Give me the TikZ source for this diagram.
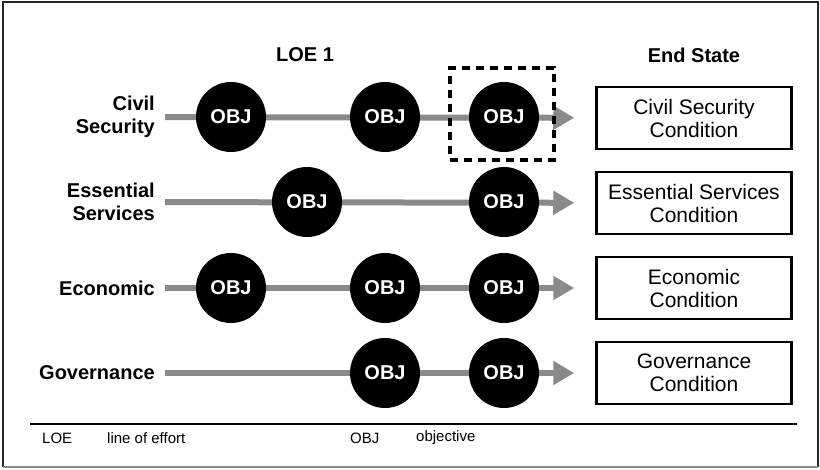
\documentclass[tikz,border=0pt]{standalone}
\usepackage{fontspec}
\setmainfont{Liberation Sans}
\usetikzlibrary{arrows.meta,positioning}
\definecolor{loegray}{RGB}{138,138,138}
\tikzset{%
  >={Triangle[width=23pt,length=21pt]},
  % Specifications for style of nodes:
       objective/.style = {circle, fill=black, minimum size=70pt, inner sep=0pt,
                           text=white, font=\fontsize{20}{20}\selectfont\bfseries},
        endstate/.style = {rectangle, draw=black, line width=2.5pt,
                           minimum width=195pt, minimum height=62pt,
                           align=center, font=\fontsize{21}{23}\selectfont},
        loelabel/.style = {anchor=east, align=right, inner sep=0pt,
                           font=\fontsize{20}{23}\selectfont\bfseries},
         heading/.style = {font=\fontsize{20}{22}\selectfont\bfseries},
          legend/.style = {anchor=west, inner sep=0pt, font=\fontsize{15}{17}\selectfont},
         loeline/.style = {draw=loegray, line width=6pt, ->,
                           shorten <=10pt, shorten >=21pt},
        focusbox/.style = {draw=black, line width=4pt, dash pattern=on 8pt off 6pt,
                           minimum width=104pt, minimum height=92pt},
}

\begin{document}
\begin{tikzpicture}[x=1pt, y=-1pt]
  \useasboundingbox (0,0) rectangle (820,470);
  % Frame
  \draw[black!85, line width=1.5pt] (3,467) -- (3,2) -- (818,2) -- (818,467);
  \draw[black!45, line width=1.5pt] (3,467) -- (818,467);
  % Headings
  \node (loe)   [heading] at (305,55) {LOE 1};
  \node (state) [heading] at (694,55) {End State};
  % Lines of effort (labels and end states)
  \node (civil)  [loelabel] at (155,117) {Civil\\Security};
  \node (ess)    [loelabel] at (155,202) {Essential\\Services};
  \node (econ)   [loelabel] at (155,288) {Economic};
  \node (gov)    [loelabel] at (155,373) {Governance};
  \node (civilE) [endstate] at (694,118) {Civil Security\\Condition};
  \node (essE)   [endstate] at (694,203) {Essential Services\\Condition};
  \node (econE)  [endstate] at (694,288) {Economic\\Condition};
  \node (govE)   [endstate] at (694,373) {Governance\\Condition};
  % Arrows behind the objectives
  \draw[loeline] (civil) -- (civilE);
  \draw[loeline] (ess)   -- (essE);
  \draw[loeline] (econ)  -- (econE);
  \draw[loeline] (gov)   -- (govE);
  % Objectives
  \node (c1) [objective] at (231,117) {OBJ};
  \node (c2) [objective] at (385,117) {OBJ};
  \node (c3) [objective] at (504,117) {OBJ};
  \node (e1) [objective] at (307,202) {OBJ};
  \node (e2) [objective] at (504,202) {OBJ};
  \node (m1) [objective] at (231,288) {OBJ};
  \node (m2) [objective] at (385,288) {OBJ};
  \node (m3) [objective] at (504,288) {OBJ};
  \node (g1) [objective] at (385,373) {OBJ};
  \node (g2) [objective] at (504,373) {OBJ};
  \node (focus) [focusbox] at (502,114) {};
  % Legend
  \coordinate (legL) at (30,424);
  \coordinate (legR) at (797,424);
  \draw[black, line width=1.5pt] (legL) -- (legR);
  \node (abbr1) [legend] at (42,438)  {LOE};
  \node (text1) [legend] at (107,438) {line of effort};
  \node (abbr2) [legend] at (350,438) {OBJ};
  \node (text2) [legend] at (416,438) {objective};
\end{tikzpicture}
\end{document}
